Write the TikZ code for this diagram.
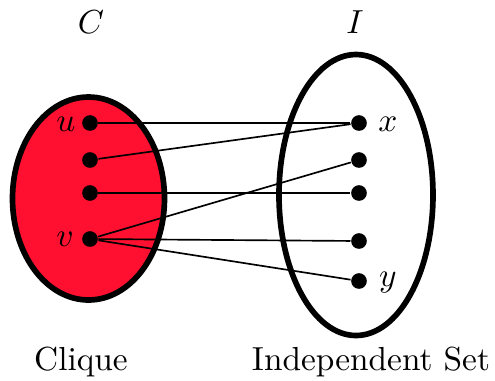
\documentclass[tikz,border=0pt]{standalone}
\definecolor{cliquered}{RGB}{255,16,48}
\begin{document}
\begin{tikzpicture}[x=0.3pt,y=-0.3pt,
  dot/.style={circle,fill=black,inner sep=0pt,minimum size=4.7pt},
  setshape/.style={line width=1.7pt,draw=black},
  edge/.style={line width=0.5pt}]
\useasboundingbox (0,0) rectangle (495,380);
\draw[setshape,fill=cliquered] (88.5,198.5) ellipse [x radius=76, y radius=101.5];
\draw[setshape,fill=white] (356,195) ellipse [x radius=77, y radius=140.5];
\node[dot] (u) at (90,123) {};
\node[dot] (l2) at (90,160) {};
\node[dot] (l3) at (90,193) {};
\node[dot] (v) at (90,239) {};
\node[dot] (x) at (359,123) {};
\node[dot] (r2) at (359,160) {};
\node[dot] (r3) at (359,193) {};
\node[dot] (r4) at (359,241) {};
\node[dot] (y) at (359,281) {};
\node (lu) at (66,124) {$u$};
\node (lv) at (65,239) {$v$};
\node (lx) at (388,124) {$x$};
\node (ly) at (388,283) {$y$};
\node (C) at (91,22) {$C$};
\node (I) at (355,22) {$I$};
\node (cl) at (81,362) {Clique};
\node (is) at (371,362) {Independent Set};
\draw[edge] (u) -- (x);
\draw[edge] (l2) -- (x);
\draw[edge] (l3) -- (r3);
\draw[edge] (v) -- (r2);
\draw[edge] (v) -- (r4);
\draw[edge] (v) -- (y);
\end{tikzpicture}
\end{document}
